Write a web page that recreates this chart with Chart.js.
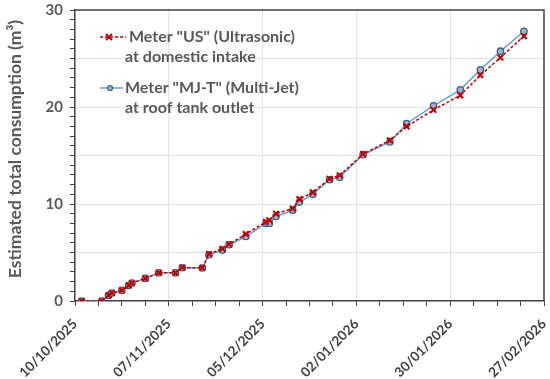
<!DOCTYPE html>
<html>
<head>
<meta charset="utf-8">
<script src="https://cdn.jsdelivr.net/npm/chart.js@4"></script>
<style>
  html, body { margin: 0; padding: 0; background: #fff; }
  #wrap { width: 550px; height: 379px; position: relative; }
</style>
</head>
<body>
<div id="wrap"><canvas id="chart"></canvas></div>
<script>
// reading dates and meter totals (m3)
const startDate = '10/10/2025';
const dates = [
  '12/10/2025', '18/10/2025', '20/10/2025', '21/10/2025', '24/10/2025', '26/10/2025',
  '27/10/2025', '31/10/2025', '04/11/2025', '09/11/2025', '11/11/2025', '17/11/2025',
  '19/11/2025', '23/11/2025', '25/11/2025', '30/11/2025', '06/12/2025', '07/12/2025',
  '09/12/2025', '14/12/2025', '16/12/2025', '20/12/2025', '25/12/2025', '28/12/2025',
  '04/01/2026', '12/01/2026', '17/01/2026', '25/01/2026', '02/02/2026', '08/02/2026',
  '14/02/2026', '21/02/2026'
];
const usValues = [
  0, 0, 0.58, 0.82, 1.1, 1.6, 1.85, 2.33, 2.9, 2.9, 3.45, 3.42,
  4.85, 5.38, 5.85, 6.9, 8.16, 8.33, 9.0, 9.53, 10.5, 11.2, 12.6, 12.96,
  15.15, 16.56, 18.0, 19.7, 21.2, 23.28, 25.1, 27.3
];
const mjValues = [
  0, 0, 0.58, 0.82, 1.1, 1.6, 1.85, 2.33, 2.9, 2.9, 3.43, 3.4,
  4.76, 5.25, 5.8, 6.65, 8.0, 8.0, 8.7, 9.36, 10.2, 11.0, 12.5, 12.75,
  15.08, 16.4, 18.3, 20.12, 21.77, 23.83, 25.75, 27.8
];
const xTickDates = ['10/10/2025', '07/11/2025', '05/12/2025', '02/01/2026', '30/01/2026', '27/02/2026'];
const yTickLabels = [0, 10, 20, 30];

const yTitle = 'Estimated total consumption (m³)';
const usLabel = ['Meter "US" (Ultrasonic)', 'at domestic intake'];
const mjLabel = ['Meter "MJ-T" (Multi-Jet)', 'at roof tank outlet'];

const DAY = 86400000;
function toUTC(s) {
  const [d, m, y] = s.split('/').map(Number);
  return Date.UTC(y, m - 1, d);
}
const t0 = toUTC(startDate);
function dayOf(s) { return Math.round((toUTC(s) - t0) / DAY); }
function fmtDay(n) {
  const d = new Date(t0 + n * DAY);
  const dd = String(d.getUTCDate()).padStart(2, '0');
  const mm = String(d.getUTCMonth() + 1).padStart(2, '0');
  return `${dd}/${mm}/${d.getUTCFullYear()}`;
}
const xTickDays = xTickDates.map(dayOf);
const xMax = xTickDays[xTickDays.length - 1];

const RED = '#C00000';
const BLUE = '#6A9FCF';
const FONT = 'Lato, "Open Sans", sans-serif';
const GREY = '#595959';

// frame, y title and legend drawn by hand
const framePlugin = {
  id: 'frame',
  afterDatasetsDraw(chart) {
    const { ctx, chartArea: a } = chart;
    ctx.save();
    ctx.strokeStyle = '#404040';
    ctx.lineWidth = 1.5;
    ctx.beginPath();
    ctx.moveTo(a.left, a.top);
    ctx.lineTo(a.right, a.top);
    ctx.lineTo(a.right, a.bottom);
    ctx.stroke();

    // y title (sits a little above the axis centre in the original)
    ctx.save();
    ctx.translate(15.5, 149);
    ctx.rotate(-Math.PI / 2);
    ctx.font = 'bold 17.5px ' + FONT;
    ctx.fillStyle = GREY;
    ctx.textAlign = 'center';
    ctx.textBaseline = 'middle';
    ctx.fillText(yTitle, 0, 0);
    ctx.restore();

    // legend
    ctx.font = 'bold 16px ' + FONT;
    ctx.fillStyle = GREY;
    ctx.textBaseline = 'middle';

    ctx.strokeStyle = RED;
    ctx.lineWidth = 1.5;
    ctx.setLineDash([3, 2]);
    ctx.beginPath(); ctx.moveTo(100, 37); ctx.lineTo(126, 37); ctx.stroke();
    ctx.setLineDash([]);
    ctx.lineWidth = 2;
    ctx.beginPath();
    ctx.moveTo(106, 34); ctx.lineTo(112, 40);
    ctx.moveTo(112, 34); ctx.lineTo(106, 40);
    ctx.stroke();
    ctx.fillText(usLabel[0], 129, 37);
    ctx.fillText(usLabel[1], 125, 57);

    ctx.strokeStyle = BLUE;
    ctx.lineWidth = 1.5;
    ctx.beginPath(); ctx.moveTo(100, 88); ctx.lineTo(123, 88); ctx.stroke();
    ctx.beginPath(); ctx.arc(110, 88, 2.5, 0, Math.PI * 2);
    ctx.fillStyle = '#9DB4CE'; ctx.fill();
    ctx.strokeStyle = '#3E5C7E'; ctx.lineWidth = 1.2; ctx.stroke();
    ctx.fillStyle = GREY;
    ctx.fillText(mjLabel[0], 125, 88);
    ctx.fillText(mjLabel[1], 125, 108);
    ctx.restore();
  }
};

const ctx = document.getElementById('chart').getContext('2d');
new Chart(ctx, {
  type: 'line',
  data: {
    datasets: [
      {
        label: usLabel.join(' '),
        data: dates.map((d, i) => ({ x: dayOf(d), y: usValues[i] })),
        borderColor: RED,
        borderWidth: 1.5,
        borderDash: [3, 2],
        pointStyle: 'crossRot',
        pointRadius: 4,
        pointBorderWidth: 2,
        pointBorderColor: RED,
        tension: 0
      },
      {
        label: mjLabel.join(' '),
        data: dates.map((d, i) => ({ x: dayOf(d), y: mjValues[i] })),
        borderColor: BLUE,
        borderWidth: 1.5,
        pointStyle: 'circle',
        pointRadius: 3.2,
        pointBackgroundColor: '#9DB4CE',
        pointBorderColor: '#3E5C7E',
        pointBorderWidth: 1.3,
        tension: 0
      }
    ]
  },
  options: {
    responsive: true,
    maintainAspectRatio: false,
    animation: false,
    layout: { padding: { top: 10, right: 6, left: 0, bottom: 0 } },
    plugins: {
      legend: { display: false },
      tooltip: { enabled: false }
    },
    scales: {
      x: {
        type: 'linear',
        min: 0,
        max: xMax,
        afterBuildTicks: s => {
          const t = [];
          for (let v = 0; v <= xMax; v += 7) t.push({ value: v });
          s.ticks = t;
        },
        afterFit: s => {
          s.height = 78;
          s.paddingLeft = 0;
          s.paddingRight = 0;
        },
        border: { color: '#404040', width: 1.5 },
        grid: {
          color: c => (xTickDays.includes(c.tick.value) && c.tick.value !== 0 && c.tick.value !== xMax) ? '#e2e2e2' : 'rgba(0,0,0,0)',
          tickColor: '#404040',
          tickLength: 5
        },
        ticks: {
          autoSkip: false,
          maxRotation: 45,
          minRotation: 45,
          padding: 10,
          color: '#404040',
          font: { family: FONT, size: 13.5, weight: 'bold' },
          callback: v => xTickDays.includes(v) ? fmtDay(v) : ''
        }
      },
      y: {
        min: 0,
        max: 30,
        afterBuildTicks: s => {
          const t = [];
          for (let v = 0; v <= 30; v += 1) t.push({ value: v });
          s.ticks = t;
        },
        afterFit: s => {
          s.width = 75;
          s.paddingTop = 0;
          s.paddingBottom = 0;
        },
        border: { color: '#404040', width: 1.5 },
        grid: {
          color: c => (c.tick.value % 5 === 0 && c.tick.value !== 0 && c.tick.value !== 30) ? '#e2e2e2' : 'rgba(0,0,0,0)',
          tickColor: '#404040',
          tickLength: 5
        },
        ticks: {
          autoSkip: false,
          padding: 7,
          color: GREY,
          font: { family: FONT, size: 15, weight: 'bold' },
          callback: v => yTickLabels.includes(v) ? String(v) : ''
        }
      }
    }
  },
  plugins: [framePlugin]
});
</script>
</body>
</html>
